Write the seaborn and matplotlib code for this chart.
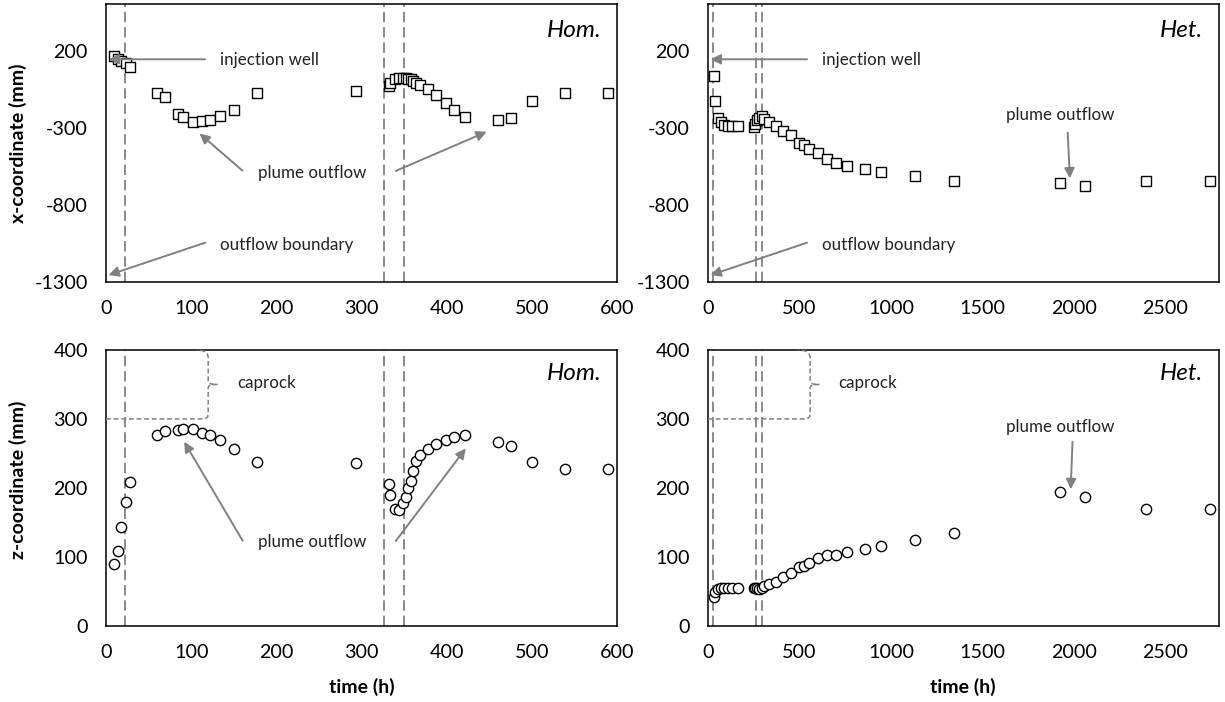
import numpy as np
import matplotlib
matplotlib.use("Agg")
import matplotlib.pyplot as plt
from matplotlib.path import Path
from matplotlib.patches import PathPatch
import seaborn as sns

# ---- measurements: homogeneous run ----
hom_time = [9, 14, 18, 23, 28, 60, 69, 85, 90, 102, 113, 122, 134, 150, 177, 294,
            332, 334, 339, 344, 349, 352, 355, 358, 361, 364, 369, 378, 388, 399,
            409, 422, 460, 475, 500, 539, 589]
hom_x = [163, 146, 135, 118, 92, -78, -104, -208, -230, -263, -258, -247, -226, -185, -74, -63,
         -32, -11, 15, 22, 22, 21, 19, 15, 5, -8, -25, -50, -87, -141,
         -185, -228, -250, -239, -130, -78, -78]
hom_z = [89, 109, 143, 179, 209, 277, 282, 284, 286, 286, 280, 277, 269, 257, 238, 236,
         205, 190, 170, 168, 178, 187, 200, 210, 225, 239, 248, 256, 263, 269,
         274, 277, 267, 261, 237, 227, 227]

# ---- measurements: heterogeneous run ----
het_time = [31, 40, 55, 70, 88, 108, 131, 162,
            252, 259, 267, 280, 293, 308, 334, 370, 411, 453, 500, 522, 553, 600,
            651, 700, 759, 859, 947, 1129, 1347, 1923, 2058, 2393, 2743]
het_x = [33, -126, -234, -263, -282, -289, -289, -291,
         -295, -278, -250, -234, -224, -245, -265, -290, -321, -350, -397, -413, -436, -467,
         -500, -528, -550, -567, -586, -615, -647, -658, -676, -643, -643]
het_z = [42, 49, 53, 54, 54, 54, 54, 54,
         54, 54, 54, 53, 55, 57, 60, 63, 71, 77, 85, 87, 91, 98,
         102, 103, 107, 111, 116, 125, 135, 194, 187, 169, 169]

# injection phase boundaries (h)
hom_phases = [22, 327, 350]
het_phases = [27, 260, 293]

x_ticks_x = [-1300, -800, -300, 200]
z_ticks = [0, 100, 200, 300, 400]

sns.set_theme(style="white")
plt.rcParams["font.family"] = ["Lato", "DejaVu Sans"]
plt.rcParams["axes.unicode_minus"] = False
plt.rcParams["lines.scale_dashes"] = False

GREY = "#808080"
fig = plt.figure(figsize=(12.25, 7.02), dpi=100)

W, H = 1225, 702
def box(x0, x1, ytop, ybot):
    return [x0 / W, 1 - ybot / H, (x1 - x0) / W, (ybot - ytop) / H]

ax_hx = fig.add_axes(box(106, 617, 4.3, 282))
ax_tx = fig.add_axes(box(708, 1218.5, 4.3, 282))
ax_hz = fig.add_axes(box(106, 617, 350, 625.7))
ax_tz = fig.add_axes(box(708, 1218.5, 350, 625.7))

marker_kw = dict(s=55, color="white", edgecolor="black", linewidth=1.0, zorder=4, legend=False)
sns.scatterplot(x=hom_time, y=hom_x, marker="s", ax=ax_hx, **marker_kw)
sns.scatterplot(x=het_time, y=het_x, marker="s", ax=ax_tx, **marker_kw)
sns.scatterplot(x=hom_time, y=hom_z, marker="o", ax=ax_hz, **marker_kw)
sns.scatterplot(x=het_time, y=het_z, marker="o", ax=ax_tz, **marker_kw)


def style_axis(ax, xmax, xmajor, ylim, yticks, yminor):
    ax.set_xlim(0, xmax)
    ax.set_ylim(*ylim)
    ax.set_xticks(np.arange(0, xmax + 1, xmajor))
    ax.set_xticks(np.arange(xmajor / 2, xmax, xmajor), minor=True)
    ax.set_yticks(yticks)
    ax.set_yticks(yminor, minor=True)
    for s in ax.spines.values():
        s.set_color("black")
        s.set_linewidth(1.1)
    ax.tick_params(which="both", direction="in", length=4, width=1.0, color="black",
                   labelsize=14.2, pad=13, labelcolor="black")
    ax.set_xlabel("")
    ax.set_ylabel("")


for ax in (ax_hx, ax_hz):
    lim = (-1300, 500) if ax is ax_hx else (0, 400)
    yt = x_ticks_x if ax is ax_hx else z_ticks
    ym = [-1050, -550, -50, 450] if ax is ax_hx else [50, 150, 250, 350]
    style_axis(ax, 600, 100, lim, yt, ym)
for ax in (ax_tx, ax_tz):
    lim = (-1300, 500) if ax is ax_tx else (0, 400)
    yt = x_ticks_x if ax is ax_tx else z_ticks
    ym = [-1050, -550, -50, 450] if ax is ax_tx else [50, 150, 250, 350]
    style_axis(ax, 2790, 500, lim, yt, ym)

# injection phase markers
for ax, phases in ((ax_hx, hom_phases), (ax_hz, hom_phases), (ax_tx, het_phases), (ax_tz, het_phases)):
    for t in phases:
        ax.axvline(t, color=GREY, lw=1.3, dashes=(7.5, 3.5), zorder=2)

# axis titles
lab = dict(fontsize=14, fontweight="bold", color="black")
ax_hx.set_ylabel("x-coordinate (mm)", **lab)
ax_hx.yaxis.set_label_coords(-0.155, 0.5)
ax_hz.set_ylabel("z-coordinate (mm)", **lab)
ax_hz.yaxis.set_label_coords(-0.155, 0.53)
for ax in (ax_hz, ax_tz):
    ax.set_xlabel("time (h)", **lab)
    ax.xaxis.set_label_coords(0.5, -0.19)

# case names
for ax, name, y in ((ax_hx, "Hom.", 0.905), (ax_hz, "Hom.", 0.915),
                    (ax_tx, "Het.", 0.905), (ax_tz, "Het.", 0.915)):
    ax.text(0.97, y, name, transform=ax.transAxes, ha="right", va="center",
            fontsize=17.5, fontstyle="italic", color="black")

note = dict(fontsize=12.2, color="#222222")
arrow = dict(arrowstyle="-|>", color=GREY, lw=1.4, mutation_scale=15, shrinkA=0, shrinkB=0)


def annotate(ax, text, tail, head, text_xy=None, ha="left"):
    ax.annotate("", xy=head, xytext=tail, xycoords="axes fraction",
                textcoords="axes fraction", arrowprops=arrow, zorder=5)
    if text_xy is not None:
        ax.text(*text_xy, text, transform=ax.transAxes, ha=ha, va="center", **note)


# top row: injection well / outflow boundary
for ax in (ax_hx, ax_tx):
    annotate(ax, "injection well", (0.194, 0.802), (0.005, 0.802), (0.223, 0.80))
    annotate(ax, "outflow boundary", (0.194, 0.1415), (0.005, 0.025), (0.223, 0.133))

# plume outflow, homogeneous
annotate(ax_hx, "plume outflow", (0.267, 0.401), (0.183, 0.535), (0.403, 0.394), ha="center")
annotate(ax_hx, "", (0.567, 0.400), (0.745, 0.541))
annotate(ax_hz, "plume outflow", (0.2675, 0.308), (0.153, 0.667), (0.403, 0.3025), ha="center")
annotate(ax_hz, "", (0.567, 0.307), (0.704, 0.643))

# plume outflow, heterogeneous
annotate(ax_tx, "plume outflow", (0.7046, 0.5376), (0.709, 0.373), (0.6905, 0.601), ha="center")
annotate(ax_tz, "plume outflow", (0.714, 0.667), (0.7105, 0.495), (0.6905, 0.722), ha="center")


# caprock bracket (axes fraction)
def caprock(ax):
    bx, tip = 0.200, 0.218
    verts = [(0.0, 0.75), (0.186, 0.75),
             (0.199, 0.75), (bx, 0.756), (bx, 0.775),
             (bx, 0.862),
             (bx, 0.872), (0.205, 0.875), (tip, 0.875),
             (0.205, 0.875), (bx, 0.878), (bx, 0.888),
             (bx, 0.968),
             (bx, 0.99), (0.195, 0.998), (0.178, 1.0)]
    codes = [Path.MOVETO, Path.LINETO,
             Path.CURVE4, Path.CURVE4, Path.CURVE4,
             Path.LINETO,
             Path.CURVE4, Path.CURVE4, Path.CURVE4,
             Path.CURVE4, Path.CURVE4, Path.CURVE4,
             Path.LINETO,
             Path.CURVE4, Path.CURVE4, Path.CURVE4]
    patch = PathPatch(Path(verts, codes), transform=ax.transAxes, fill=False,
                      edgecolor=GREY, lw=1.1, linestyle=(0, (3.5, 2.0)), zorder=3,
                      clip_on=False)
    ax.add_patch(patch)
    ax.text(0.256, 0.879, "caprock", transform=ax.transAxes, ha="left", va="center", **note)


caprock(ax_hz)
caprock(ax_tz)

fig.savefig("out.png", dpi=100, facecolor="white")
